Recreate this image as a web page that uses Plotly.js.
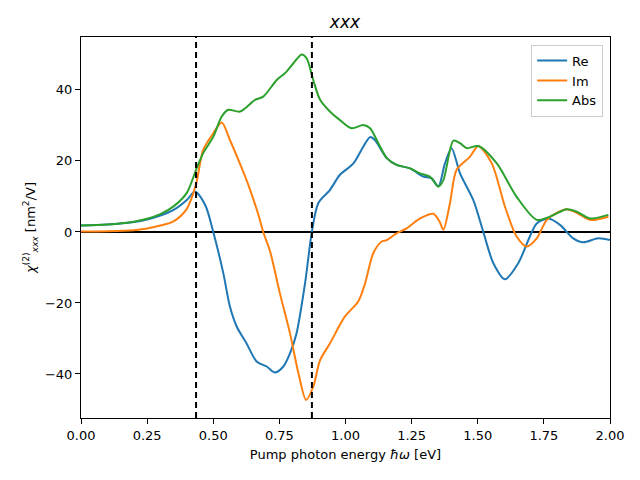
<!DOCTYPE html>
<html><head><meta charset="utf-8">
<script src="https://cdn.plot.ly/plotly-3.0.1.min.js"></script>
<style>body{margin:0;}#c{width:640px;height:480px;}</style>
</head><body><div id="c"></div>
<script>
const reX = [0,0.1,0.2,0.25,0.3,0.35,0.4,0.431,0.47,0.50,0.538,0.563,0.589,0.626,0.664,0.702,0.733,0.765,0.790,0.815,0.847,0.872,0.897,0.941,0.979,1.030,1.067,1.093,1.111,1.156,1.193,1.244,1.294,1.326,1.351,1.376,1.401,1.433,1.483,1.521,1.559,1.603,1.653,1.697,1.723,1.767,1.811,1.861,1.899,1.956,2.0];
const reY = [1.8,2.1,2.8,3.5,4.6,6.2,9.0,11.4,7.5,0.0,-11.6,-21.0,-26.7,-31.4,-36.5,-37.9,-39.6,-37.9,-34.2,-28.5,-14.5,-0.4,8.1,11.8,16.1,19.3,24.0,26.7,25.9,20.8,18.9,17.9,15.6,15.1,12.8,19.3,23.6,16.5,9.0,0.0,-8.8,-13.3,-8.8,-1.3,2.4,3.8,2.0,-1.8,-2.9,-1.8,-2.3];
const imX = [0,0.1,0.2,0.25,0.3,0.35,0.4,0.435,0.462,0.50,0.532,0.563,0.595,0.633,0.670,0.689,0.715,0.752,0.790,0.822,0.851,0.878,0.904,0.941,0.998,1.048,1.074,1.105,1.137,1.156,1.193,1.231,1.282,1.332,1.355,1.370,1.395,1.420,1.471,1.502,1.553,1.603,1.647,1.685,1.723,1.761,1.800,1.836,1.874,1.924,1.994];
const imY = [0.1,0.2,0.5,1.0,1.8,3.0,6.5,13.5,23.1,27.8,30.8,25.9,20.3,13.2,5.0,0.0,-5.5,-17.3,-28.5,-39.8,-47.3,-43.6,-36.1,-31.4,-23.8,-19.6,-14.5,-6.0,-2.7,-2.3,-0.4,1.0,3.8,5.1,3.0,0.6,8.1,17.5,21.2,24.2,19.3,7.1,-1.3,-4.1,-1.8,3.4,5.4,6.4,5.4,3.4,4.3];
const absX = [0,0.1,0.2,0.25,0.3,0.35,0.4,0.435,0.462,0.50,0.532,0.557,0.601,0.658,0.689,0.740,0.771,0.803,0.834,0.853,0.878,0.904,0.941,0.979,1.023,1.067,1.093,1.124,1.156,1.193,1.244,1.282,1.319,1.351,1.370,1.408,1.433,1.458,1.502,1.572,1.647,1.723,1.773,1.836,1.874,1.924,1.994];
const absY = [1.8,2.1,2.9,3.7,5.0,7.2,11.0,17.5,22.2,26.8,32.5,34.4,33.9,37.2,38.1,42.8,44.7,47.5,50.0,48.9,42.8,37.2,33.9,31.5,29.2,30.1,29.2,25.0,20.8,18.9,17.9,16.5,15.6,12.8,14.6,25.7,25.0,23.6,24.2,19.3,9.9,3.4,4.3,6.4,5.7,3.8,4.8];
const vLines = [0.435, 0.873];

const font = {family: 'DejaVu Sans', size: 13, color: '#000'};
const traces = [
  {x: reX, y: reY, name: 'Re', mode: 'lines', line: {color: '#1f77b4', width: 2, shape: 'spline', smoothing: 0.8}},
  {x: imX, y: imY, name: 'Im', mode: 'lines', line: {color: '#ff7f0e', width: 2, shape: 'spline', smoothing: 0.8}},
  {x: absX, y: absY, name: 'Abs', mode: 'lines', line: {color: '#2ca02c', width: 2, shape: 'spline', smoothing: 0.8}}
];
const shapes = [
  {type: 'line', xref: 'paper', x0: 0, x1: 1, yref: 'y', y0: 0, y1: 0, line: {color: '#000', width: 2}, layer: 'below'}
].concat(vLines.map(v => ({type: 'line', xref: 'x', x0: v, x1: v, yref: 'paper', y0: 0, y1: 1, line: {color: '#000', width: 2, dash: '6px,4px'}})));
const layout = {
  width: 640, height: 480,
  margin: {l: 81, r: 30, t: 37, b: 62},
  paper_bgcolor: '#fff', plot_bgcolor: '#fff',
  font: font,
  showlegend: true,
  title: {text: '<i>xxx</i>', font: {family: 'DejaVu Sans', size: 17}, x: 0.539, xanchor: 'center', y: 0.955, yanchor: 'middle'},
  xaxis: {range: [0, 2], tickvals: [0,0.25,0.5,0.75,1,1.25,1.5,1.75,2], ticktext: ['0.00','0.25','0.50','0.75','1.00','1.25','1.50','1.75','2.00'],
    showgrid: false, zeroline: false, showline: true, mirror: true, linecolor: '#000', linewidth: 1,
    ticks: 'outside', ticklen: 5, tickcolor: '#000', tickfont: font,
    title: {text: 'Pump photon energy <i>ħω</i> [eV]', font: font, standoff: 8}},
  yaxis: {range: [-52.4, 54.9], tickvals: [-40,-20,0,20,40], ticktext: ['\u221240','\u221220','0','20','40'],
    showgrid: false, zeroline: false, showline: true, mirror: true, linecolor: '#000', linewidth: 1,
    ticks: 'outside', ticklen: 5, tickcolor: '#000', tickfont: font,
    title: {text: '<i>χ</i><sup>(2)</sup><sub><i>xxx</i></sub> [nm<sup>2</sup>/V]', font: font, standoff: 6}},
  legend: {x: 0.987, xanchor: 'right', y: 0.98, yanchor: 'top', bgcolor: 'rgba(255,255,255,0.8)', bordercolor: '#ccc', borderwidth: 1, font: {family: 'DejaVu Sans', size: 13}},
  shapes: shapes
};
Plotly.newPlot('c', traces, layout, {displayModeBar: false, staticPlot: true});
</script></body></html>
